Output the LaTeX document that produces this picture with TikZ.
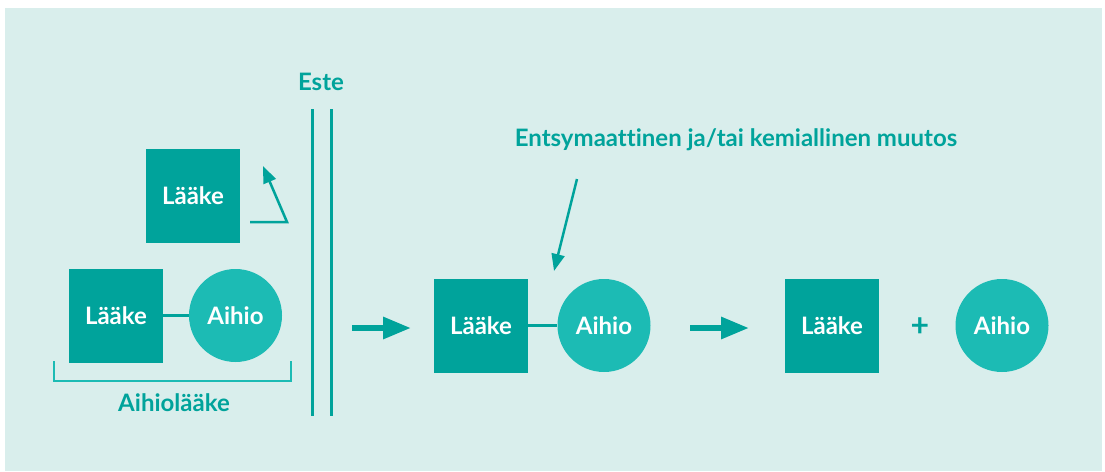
\documentclass[tikz,border=0pt]{standalone}
\usepackage{fontspec}
\setmainfont{Lato}[Ligatures=NoCommon]
\usetikzlibrary{arrows.meta}
\definecolor{bgc}{HTML}{D9EEEC}
\definecolor{teal1}{HTML}{00A39B}
\definecolor{teal2}{HTML}{1CBBB4}
\tikzset{
  sq/.style={draw=none,fill=teal1,minimum size=94pt,inner sep=0pt,text=white,font=\fontsize{24}{28}\selectfont\bfseries},
  ci/.style={circle,draw=none,fill=teal2,minimum size=93pt,inner sep=0pt,text=white,font=\fontsize{24}{28}\selectfont\bfseries},
  conn/.style={teal1,line width=2.5pt},
  lbl/.style={text=teal1,font=\fontsize{24}{28}\selectfont\bfseries},
  bigarrow/.style={teal1,line width=6pt,-{Triangle[length=28pt,width=21pt]}},
  thinarrow/.style={teal1,line width=2.5pt,-{Triangle[length=17pt,width=13pt]}}
}
\begin{document}
\begin{tikzpicture}[x=1pt,y=-1pt]
\useasboundingbox (0,0) rectangle (1105,471);
\fill[white] (0,0) rectangle (1105,471);
\fill[bgc] (5,8) rectangle (1102,471);
% left group
\node[sq] (l1) at (193,195.5) {Lääke};
\coordinate (ang0) at (250,222);
\coordinate (ang1) at (287,222);
\coordinate (ang2) at (263,166);
\draw[thinarrow] (ang0) -- (ang1) -- (ang2);
\node[sq] (l2) at (116,315.5) {Lääke};
\node[ci] (a2) at (235.5,315.5) {Aihio};
\draw[conn] (l2) -- (a2);
\draw[teal2,line width=1.5pt] (54,361) -- (54,381) -- (291,381) -- (291,361);
\node[lbl] (al) at (174,403) {Aihiolääke};
% barrier
\node[lbl] (este) at (321,82) {Este};
\draw[teal1,line width=3pt] (312,109) -- (312,416);
\draw[teal1,line width=3pt] (331,109) -- (331,416);
% arrow 1
\coordinate (ar1a) at (352,328);
\coordinate (ar1b) at (411,328);
\draw[bigarrow] (ar1a) -- (ar1b);
% middle
\node[sq] (l3) at (481,325.5) {Lääke};
\node[ci] (a3) at (604,325.5) {Aihio};
\draw[conn] (l3) -- (a3);
\node[lbl] (ent) at (736,140) {Entsymaattinen ja/tai kemiallinen muutos};
\coordinate (d0) at (577,179);
\coordinate (d1) at (554,271);
\draw[thinarrow] (d0) -- (d1);
% arrow 2
\coordinate (ar2a) at (690,328);
\coordinate (ar2b) at (749,328);
\draw[bigarrow] (ar2a) -- (ar2b);
% right
\node[sq] (l4) at (832,325.5) {Lääke};
\node[lbl,font=\fontsize{32}{36}\selectfont\bfseries] (plus) at (920,327) {+};
\node[ci] (a4) at (1002,325.5) {Aihio};
\end{tikzpicture}
\end{document}
